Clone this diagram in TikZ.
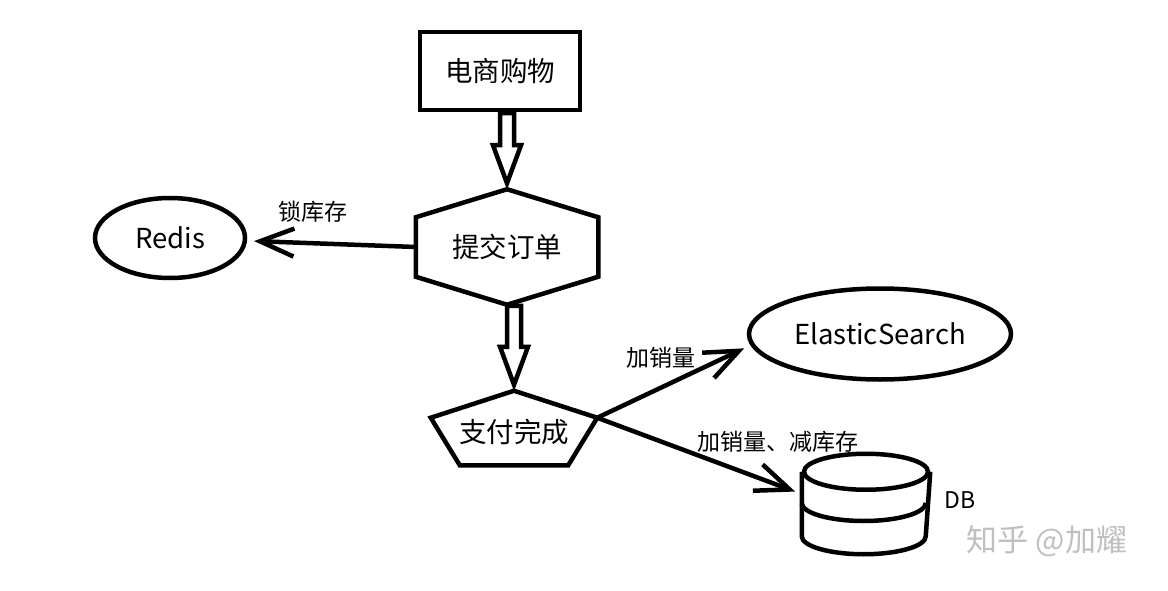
\documentclass[tikz,border=0pt]{standalone}
\usepackage{fontspec}
\newfontfamily\cjk{Noto Sans CJK SC}
\usetikzlibrary{arrows.meta,calc,shapes.geometric}
% hollow block arrow pointing down, shaft under #1, tip at #2
\newcommand{\hollowdown}[2]{%
  \draw[line width=4.5pt,line join=miter,fill=white]
    ($(#2|-#1)+(-7,1)$) -- ($(#2)+(-7,-44)$) -- ($(#2)+(-14,-44)$) -- ($(#2)+(0,-6)$)
    -- ($(#2)+(14,-44)$) -- ($(#2)+(7,-44)$) -- ($(#2|-#1)+(7,1)$) -- cycle;}

\begin{document}
\begin{tikzpicture}[x=1pt,y=-1pt,line width=4.5pt,
  lbl/.style={font=\cjk\fontsize{27.5}{30}\selectfont},
  note/.style={font=\cjk\fontsize{23}{26}\selectfont},
  oval/.style={draw,ellipse,inner sep=0pt,lbl},
  ghost/.style={inner sep=0pt,lbl},
  link/.style={-{Straight Barb[length=34pt,width=28pt]},line width=4.5pt,shorten >=7pt}]
  \useasboundingbox (0,0) rectangle (1168,591);
  \node[draw,minimum width=160pt,minimum height=78pt,lbl] (shop) at (500,71) {电商购物};
  \node[ghost,minimum width=178pt,minimum height=111pt] (order) at (507,247) {提交订单};
  \draw[line join=miter] (order.north) -- ($(order.north east)+(0,28)$) -- ($(order.south east)+(0,-28)$)
    -- (order.south) -- ($(order.south west)+(0,-28)$) -- ($(order.north west)+(0,28)$) -- cycle;
  \node[ghost,minimum width=162pt,minimum height=70pt,text height=32pt] (pay) at (514,428) {支付完成};
  \draw[line join=miter] (pay.north) -- ($(pay.north east)+(0,27)$) coordinate (payR) -- ($(pay.south east)+(-29,0)$)
    -- ($(pay.south west)+(29,0)$) -- ($(pay.north west)+(0,27)$) -- cycle;
  \hollowdown{shop.south}{order.north}
  \hollowdown{order.south}{pay.north}
  \node[oval,minimum width=150pt,minimum height=80pt] (redis) at (170,238) {Redis};
  \node[oval,minimum width=262pt,minimum height=91pt] (es) at (880,334) {ElasticSearch};
  % database cylinder
  \node[inner sep=0pt,minimum width=124pt,minimum height=96pt] (db) at (866,504) {};
  \draw ($(db.north)+(0,18)$) ellipse [x radius=62pt,y radius=18pt];
  \draw ($(db.north west)+(0,18)$) -- ($(db.south west)+(0,-18)$)
    arc[start angle=180,end angle=360,x radius=62pt,y radius=18pt] -- ($(db.north east)+(0,18)$);
  \draw ($(db.west)+(0,-1)$) arc[start angle=180,end angle=360,x radius=62pt,y radius=18pt];
  \node[note] (dbname) at (960,500) {DB};
  \draw[link] (order.west) -- (redis);
  \draw[link] (payR) -- (es.185);
  \draw[link] (payR) -- ($(db.west)+(0,-10)$);
  \node[note] (lock) at (313,212) {锁库存};
  \node[note] (addes) at (661,358) {加销量};
  \node[note] (adddb) at (778,442) {加销量、减库存};
  \node[font=\cjk\fontsize{31}{34}\selectfont,text=black!25] (mark) at (1047,541) {知乎 @加耀};
\end{tikzpicture}
\end{document}
